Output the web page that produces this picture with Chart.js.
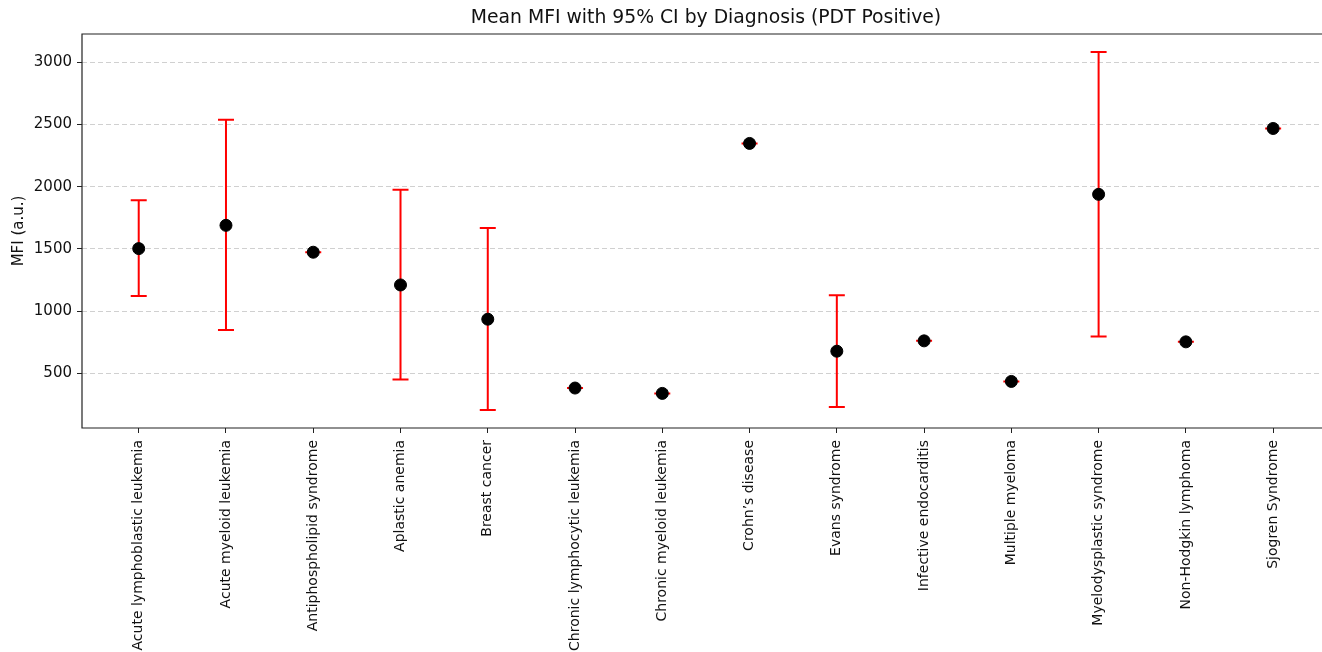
<!DOCTYPE html>
<html>
<head>
<meta charset="utf-8">
<script src="https://cdn.jsdelivr.net/npm/chart.js@4.4.1/dist/chart.umd.min.js"></script>
<style>
  html, body { margin: 0; padding: 0; background: #fff; }
  #wrap { width: 1322px; height: 652px; }
</style>
</head>
<body>
<div id="wrap"><canvas id="chart" width="1322" height="652"></canvas></div>
<script>
// data
var chartTitle = "Mean MFI with 95% CI by Diagnosis (PDT Positive)";
var diagnoses = ["Acute lymphoblastic leukemia", "Acute myeloid leukemia", "Antiphospholipid syndrome",
  "Aplastic anemia", "Breast cancer", "Chronic lymphocytic leukemia", "Chronic myeloid leukemia",
  "Crohn\u2019s disease", "Evans syndrome", "Infective endocarditis", "Multiple myeloma",
  "Myelodysplastic syndrome", "Non-Hodgkin lymphoma", "Sjogren Syndrome"];
var meanMFI = [1503, 1690, 1474, 1211, 936, 383, 340, 2348, 679, 762, 436, 1939, 754, 2468];
var ciLower = [1123, 850, 1474, 452, 206, 383, 340, 2348, 230, 762, 436, 797, 754, 2468];
var ciUpper = [1891, 2538, 1474, 1976, 1669, 383, 340, 2348, 1129, 762, 436, 3083, 754, 2468];
var yTicks = [500, 1000, 1500, 2000, 2500, 3000];

var points = meanMFI.map(function(v, i){ return {x: i, y: v}; });

// red error bars with caps, drawn under the dots
var errorBars = {
  id: "errorBars",
  beforeDatasetsDraw: function(chart){
    var ctx = chart.ctx, xs = chart.scales.x, ys = chart.scales.y;
    ctx.save();
    ctx.strokeStyle = "#ff0000";
    ctx.lineWidth = 2;
    for (var i = 0; i < meanMFI.length; i++) {
      var px = xs.getPixelForValue(i);
      var lo = ys.getPixelForValue(ciLower[i]);
      var hi = ys.getPixelForValue(ciUpper[i]);
      ctx.beginPath();
      ctx.moveTo(px, lo); ctx.lineTo(px, hi);
      ctx.moveTo(px - 8, lo); ctx.lineTo(px + 8, lo);
      ctx.moveTo(px - 8, hi); ctx.lineTo(px + 8, hi);
      ctx.stroke();
    }
    ctx.restore();
  }
};

// axes spines (right one falls outside the picture) + title centred over the axes
var frame = {
  id: "frame",
  afterDraw: function(chart){
    var a = chart.chartArea, ctx = chart.ctx;
    ctx.save();
    ctx.strokeStyle = "#222";
    ctx.lineWidth = 1.2;
    ctx.beginPath();
    ctx.moveTo(a.right + 2, a.top); ctx.lineTo(a.left, a.top);
    ctx.lineTo(a.left, a.bottom); ctx.lineTo(a.right + 2, a.bottom);
    ctx.stroke();
    ctx.fillStyle = "#111";
    ctx.font = "18.8px 'DejaVu Sans', sans-serif";
    ctx.textAlign = "center";
    ctx.textBaseline = "middle";
    ctx.fillText(chartTitle, 706, 18);
    ctx.restore();
  }
};

Chart.defaults.font.family = "'DejaVu Sans', sans-serif";
Chart.defaults.color = "#111";

new Chart(document.getElementById("chart"), {
  type: "scatter",
  data: {
    datasets: [{
      data: points,
      backgroundColor: "#000",
      borderColor: "#000",
      pointRadius: 6,
      pointHoverRadius: 6
    }]
  },
  options: {
    responsive: false,
    animation: false,
    layout: { autoPadding: false, padding: { top: 34, right: 0, left: 0, bottom: 0 } },
    plugins: {
      legend: { display: false },
      tooltip: { enabled: false },
      title: { display: false }
    },
    scales: {
      x: {
        type: "linear",
        min: -0.65,
        max: 13.56,
        afterBuildTicks: function(s){ s.ticks = diagnoses.map(function(d, i){ return {value: i}; }); },
        afterFit: function(s){ s.height = 224; s.paddingLeft = 0; s.paddingRight = 0; },
        ticks: {
          autoSkip: false,
          minRotation: 90,
          maxRotation: 90,
          font: { size: 14 },
          color: "#111",
          padding: 7,
          callback: function(v){ return diagnoses[v]; }
        },
        grid: { drawOnChartArea: false, tickLength: 5, color: "#222" },
        border: { display: false }
      },
      y: {
        min: 62,
        max: 3227,
        afterBuildTicks: function(s){ s.ticks = yTicks.map(function(v){ return {value: v}; }); },
        afterFit: function(s){ s.width = 82; },
        ticks: { font: { size: 15 }, color: "#111", padding: 5, callback: function(v){ return String(v); } },
        grid: {
          color: "#d0d0d0",
          tickColor: "#222",
          tickBorderDash: [],
          tickLength: 5
        },
        border: { display: false, dash: [5, 3] },
        title: { display: true, text: "MFI (a.u.)", font: { size: 15 }, color: "#111", padding: { top: 10, bottom: 2 } }
      }
    }
  },
  plugins: [errorBars, frame]
});
</script>
</body>
</html>
